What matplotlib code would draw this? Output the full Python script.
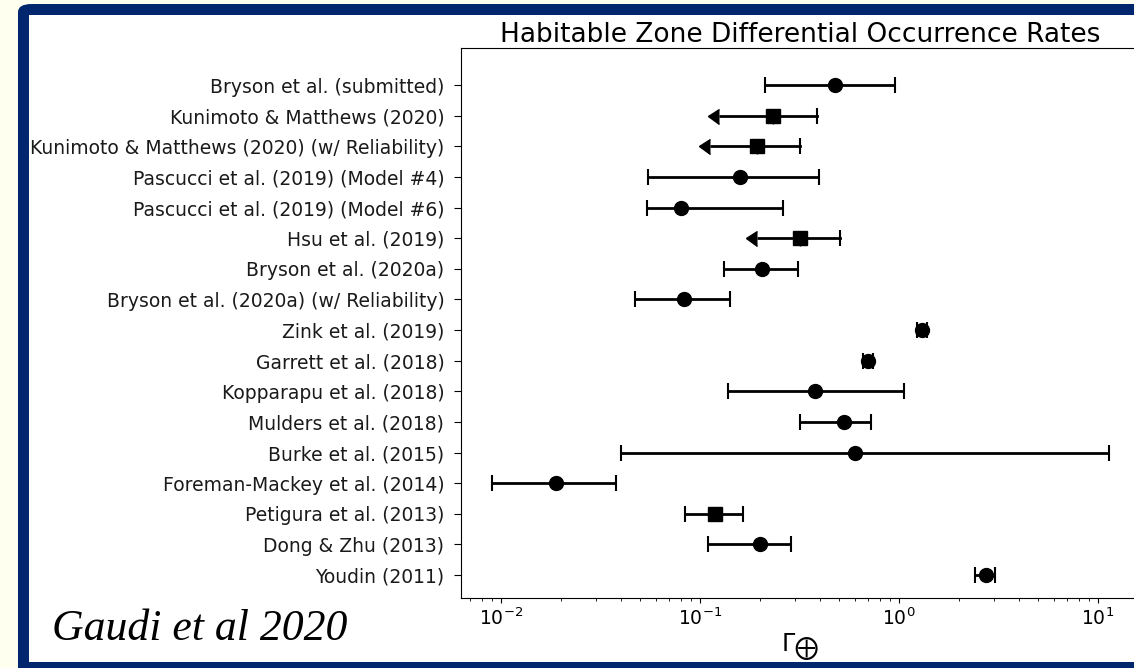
import numpy as np
import matplotlib
matplotlib.use("Agg")
import matplotlib.pyplot as plt
from matplotlib.patches import FancyBboxPatch, Rectangle

# ---------- data ----------
labels = [
    "Bryson et al. (submitted)",
    "Kunimoto & Matthews (2020)",
    "Kunimoto & Matthews (2020) (w/ Reliability)",
    "Pascucci et al. (2019) (Model #4)",
    "Pascucci et al. (2019) (Model #6)",
    "Hsu et al. (2019)",
    "Bryson et al. (2020a)",
    "Bryson et al. (2020a) (w/ Reliability)",
    "Zink et al. (2019)",
    "Garrett et al. (2018)",
    "Kopparapu et al. (2018)",
    "Mulders et al. (2018)",
    "Burke et al. (2015)",
    "Foreman-Mackey et al. (2014)",
    "Petigura et al. (2013)",
    "Dong & Zhu (2013)",
    "Youdin (2011)",
]
center = [0.479, 0.232, 0.194, 0.159, 0.080, 0.320, 0.205, 0.083, 1.31,
          0.698, 0.379, 0.532, 0.599, 0.019, 0.119, 0.200, 2.73]
lower  = [0.213, 0.125, 0.112, 0.055, 0.054, 0.194, 0.132, 0.047, 1.23,
          0.662, 0.138, 0.320, 0.040, 0.0090, 0.084, 0.110, 2.41]
upper  = [0.956, 0.386, 0.318, 0.396, 0.261, 0.508, 0.310, 0.142, 1.39,
          0.738, 1.06, 0.727, 11.4, 0.0377, 0.164, 0.287, 3.04]
# lower end is only an upper-limit arrow for these entries
is_limit = [False, True, True, False, False, True, False, False, False,
            False, False, False, False, False, False, False, False]
marker = ["o", "s", "s", "o", "o", "s", "o", "o", "o",
          "o", "o", "o", "o", "o", "s", "o", "o"]

# ---------- figure ----------
W, H = 1134, 668
fig = plt.figure(figsize=(W / 100, H / 100), dpi=100, facecolor="#fffff0")

# slide frame: navy rounded border
fig.patches.append(FancyBboxPatch((18 / W, -0.05), 1.2, (H - 4) / H + 0.05,
                                  boxstyle="round,pad=0,rounding_size=0.012",
                                  transform=fig.transFigure, facecolor="#00266e",
                                  edgecolor="none", zorder=-5))
fig.patches.append(Rectangle((29 / W, 6 / H), 1.2, (H - 15 - 6) / H,
                             transform=fig.transFigure, facecolor="white",
                             edgecolor="none", zorder=-4))

ax = fig.add_axes([461 / W, (H - 598) / H, (1140 - 461) / W, (598 - 48) / H])
ax.set_facecolor("white")

n = len(labels)
ypos = np.arange(n)[::-1]
for i in range(n):
    c, lo, hi, y = center[i], lower[i], upper[i], ypos[i]
    if is_limit[i]:
        # arrow (upper limit) on the low side, capped bar on the high side
        ax.errorbar(c, y, xerr=[[c - lo], [0]], xuplims=True, fmt="none",
                    ecolor="black", color="black", elinewidth=2, capsize=5.4)
        ax.plot([c, hi], [y, y], color="black", lw=2)
        ax.plot(hi, y, marker="|", ms=11, mew=1.5, color="black")
        ax.plot(c, y, marker=marker[i], ms=9.5, color="black", zorder=3)
    else:
        ax.errorbar(c, y, xerr=[[c - lo], [hi - c]], fmt=marker[i],
                    color="black", ms=10 if marker[i] == "o" else 9.5,
                    elinewidth=2, capsize=5.5, capthick=1.5)

ax.set_xscale("log")
ax.set_xlim(0.00629, 16.3)
ax.set_ylim(-0.75, n - 1 + 1.21)
ax.set_yticks(ypos)
ax.set_yticklabels(labels, fontsize=13.5, color="#1a1a1a")
ax.tick_params(axis="y", length=5, pad=7)
ax.tick_params(axis="x", labelsize=13.5, pad=3.5)
ax.set_xlabel(r"$\Gamma_{\bigoplus}$", fontsize=17, labelpad=2)
ax.set_title("Habitable Zone Differential Occurrence Rates", fontsize=19, pad=3)

fig.text(52 / W, (H - 640) / H, "Gaudi et al 2020", family="Liberation Serif",
         style="italic", fontsize=31.5, color="black")

fig.savefig("out.png", dpi=100, facecolor=fig.get_facecolor())
